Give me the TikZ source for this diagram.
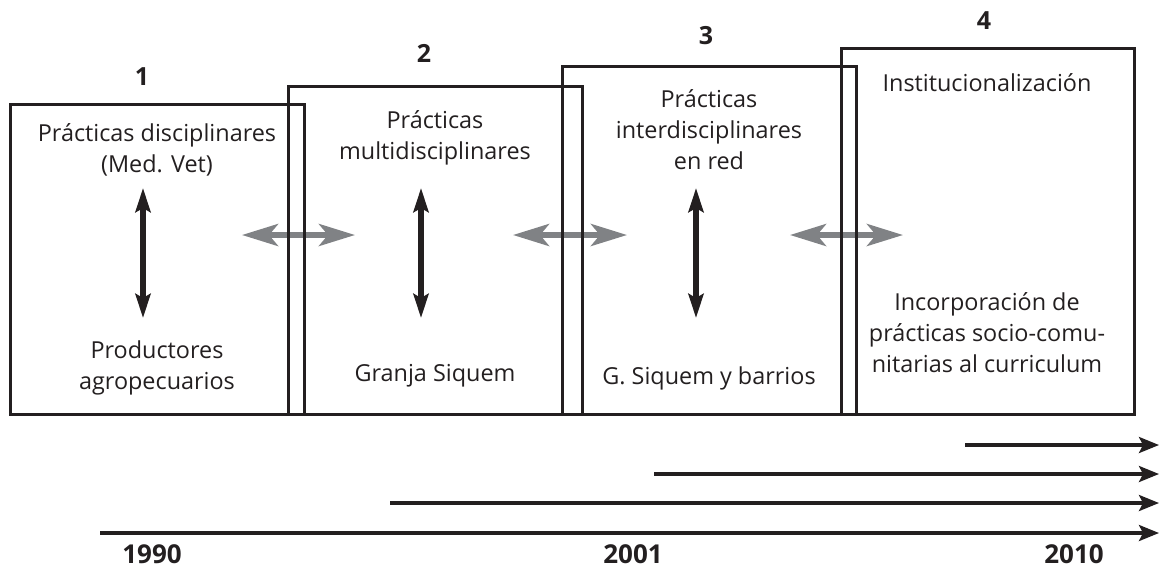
\documentclass[tikz,border=0pt]{standalone}
\usepackage{fontspec}
\setmainfont{Open Sans}
\usetikzlibrary{arrows.meta}
\definecolor{ink}{HTML}{231F20}
\definecolor{greyarrow}{HTML}{808285}
\tikzset{
    etapa/.style={draw=ink, line width=1.5pt},
    txt/.style={text=ink, align=center, font=\fontsize{11.7}{15.5}\selectfont},
    num/.style={text=ink, font=\fontsize{12.5}{14}\selectfont\bfseries},
    anio/.style={text=ink, font=\fontsize{13}{14}\selectfont\bfseries},
    vert/.style={draw=ink, line width=2.6pt, {Stealth[length=12pt, width=7.5pt, inset=2pt]}-{Stealth[length=12pt, width=7.5pt, inset=2pt]}},
    enlace/.style={draw=greyarrow, line width=2.8pt, {Stealth[length=18pt, width=11pt, inset=4.5pt]}-{Stealth[length=18pt, width=11pt, inset=4.5pt]}},
    linea/.style={draw=ink, line width=1.6pt, -{Stealth[length=10pt, width=8pt, inset=2pt]}}
}
\begin{document}
\begin{tikzpicture}[x=0.5pt, y=-0.5pt]
    \useasboundingbox (0, 0) rectangle (1161, 570);
    % enlaces entre etapas
    \coordinate (e1a) at (242, 235); \coordinate (e1b) at (355, 235);
    \coordinate (e2a) at (513, 235); \coordinate (e2b) at (627, 235);
    \coordinate (e3a) at (790, 235); \coordinate (e3b) at (903, 235);
    \draw[enlace] (e1a) -- (e1b);
    \draw[enlace] (e2a) -- (e2b);
    \draw[enlace] (e3a) -- (e3b);
    % etapas
    \draw[etapa] (10, 104) rectangle (304, 414);
    \draw[etapa] (288, 86) rectangle (582, 414);
    \draw[etapa] (562, 66) rectangle (856, 414);
    \draw[etapa] (841, 48) rectangle (1134, 414);
    \node[num] (n1) at (142, 77) {1};
    \node[num] (n2) at (424, 53) {2};
    \node[num] (n3) at (706, 36) {3};
    \node[num] (n4) at (984, 21) {4};
    % etapa 1
    \node[txt] (a1) at (157, 150) {Prácticas disciplinares\\(Med. Vet)};
    \node[txt] (b1) at (157, 368) {Productores\\agropecuarios};
    \coordinate (v1a) at (143, 188); \coordinate (v1b) at (143, 318);
    \draw[vert] (v1a) -- (v1b);
    % etapa 2
    \node[txt] (a2) at (435, 138) {Prácticas\\multidisciplinares};
    \node[txt] (b2) at (435, 376) {Granja Siquem};
    \coordinate (v2a) at (421, 188); \coordinate (v2b) at (421, 318);
    \draw[vert] (v2a) -- (v2b);
    % etapa 3
    \node[txt] (a3) at (709, 130) {Prácticas\\interdisciplinares\\en red};
    \node[txt] (b3) at (709, 378) {G. Siquem y barrios};
    \coordinate (v3a) at (696, 188); \coordinate (v3b) at (696, 318);
    \draw[vert] (v3a) -- (v3b);
    % etapa 4
    \node[txt] (a4) at (987, 83) {Institucionalización};
    \node[txt] (b4) at (987, 333) {Incorporación de\\prácticas socio-comu-\\nitarias al curriculum};
    % linea de tiempo
    \coordinate (t1a) at (965, 445); \coordinate (t1b) at (1159, 445);
    \coordinate (t2a) at (654, 474); \coordinate (t2b) at (1159, 474);
    \coordinate (t3a) at (390, 503); \coordinate (t3b) at (1159, 503);
    \coordinate (t4a) at (100, 533); \coordinate (t4b) at (1159, 533);
    \draw[linea] (t1a) -- (t1b);
    \draw[linea] (t2a) -- (t2b);
    \draw[linea] (t3a) -- (t3b);
    \draw[linea] (t4a) -- (t4b);
    \node[anio] (y1) at (152, 554) {1990};
    \node[anio] (y2) at (633, 554) {2001};
    \node[anio] (y3) at (1074, 554) {2010};
\end{tikzpicture}
\end{document}
